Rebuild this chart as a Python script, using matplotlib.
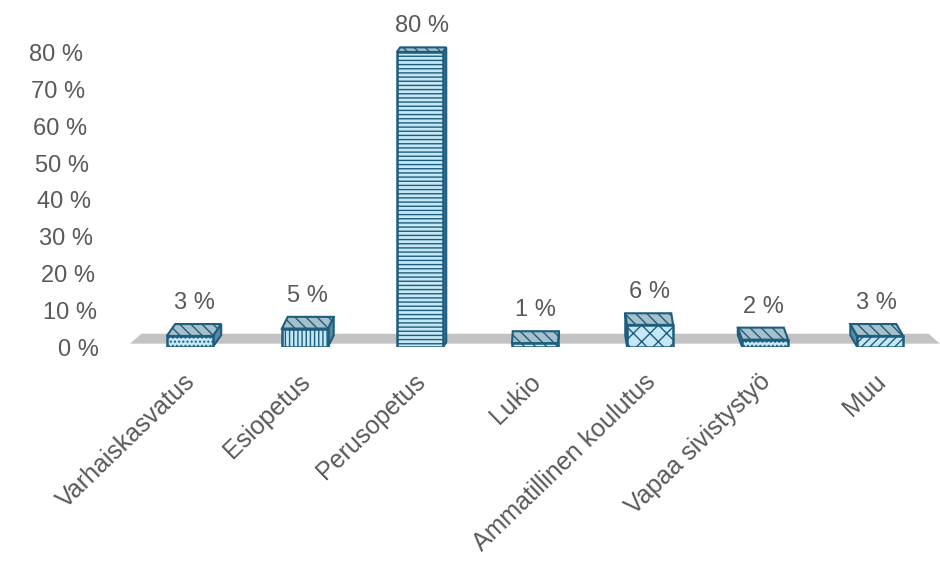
import matplotlib
matplotlib.use('Agg')
import matplotlib.pyplot as plt
from matplotlib.patches import Polygon, Rectangle
from matplotlib.transforms import offset_copy

plt.rcParams['font.family'] = ['Liberation Sans', 'DejaVu Sans']
plt.rcParams['hatch.linewidth'] = 1.0

categories = ["Varhaiskasvatus", "Esiopetus", "Perusopetus", "Lukio",
              "Ammatillinen koulutus", "Vapaa sivistystyö", "Muu"]
values = [3, 5, 80, 1, 6, 2, 3]
yticks = [0, 10, 20, 30, 40, 50, 60, 70, 80]

EDGE = "#1d5d7e"
FRONT = "#c6e8f6"
TOP = "#a6c0cc"
SIDE = "#5a8aa2"
TXT = "#595959"
hatches = ["....", "||||", "----", "\\\\\\", "xx", "....", "////"]

fig = plt.figure(figsize=(9.4, 5.68), dpi=100)
ax = fig.add_axes([130/940, (568-347)/568, 810/940, 332/568])
ax.set_xlim(-0.52, 6.52)
ax.set_ylim(0, 90)
ax.axis("off")

# floor
floor = Polygon([(-0.52, 0.9), (6.52, 0.9), (6.42, 3.6), (-0.42, 3.6)],
                closed=True, facecolor="#c3c3c3", edgecolor="none", zorder=1)
ax.add_patch(floor)

w = 0.4
vx = 3.3
for i, (cat, v) in enumerate(zip(categories, values)):
    x0, x1 = i - w/2, i + w/2
    dx = 0.022 * (vx - i)
    d = 3.3 - 0.026 * v
    # side face
    if dx > 0:
        side = [(x1, 0), (x1 + dx, d), (x1 + dx, v + d), (x1, v)]
    else:
        side = [(x0, 0), (x0 + dx, d), (x0 + dx, v + d), (x0, v)]
    ax.add_patch(Polygon(side, closed=True, facecolor=SIDE, edgecolor=EDGE,
                         linewidth=1.5, zorder=2))
    # top face
    top = [(x0, v), (x1, v), (x1 + dx, v + d), (x0 + dx, v + d)]
    ax.add_patch(Polygon(top, closed=True, facecolor=TOP, edgecolor=EDGE,
                         hatch="\\\\\\", linewidth=1.5, zorder=3))
    # front face
    ax.add_patch(Rectangle((x0, 0), w, v, facecolor=FRONT, edgecolor=EDGE,
                           hatch=hatches[i], linewidth=1.8, zorder=4))
    # value label
    ax.text(i + dx/2, v + d, f"{v} %", ha="center", va="bottom",
            fontsize=17, color=TXT,
            transform=offset_copy(ax.transData, fig=fig, x=0, y=10, units="dots"))
    # category label
    ax.text(i, 0, cat, rotation=44, rotation_mode="anchor",
            ha="right", va="center", fontsize=18, color=TXT,
            transform=offset_copy(ax.transData, fig=fig, x=2, y=-31, units="dots"))

# y tick labels (slanted back wall)
for t in yticks:
    ax.text(-0.52, t, f"{t} %", ha="right", va="center", fontsize=17, color=TXT,
            transform=offset_copy(ax.transData, fig=fig, x=-31 - 0.2*t, y=-3, units="dots"))

fig.savefig("out.png", dpi=100)
